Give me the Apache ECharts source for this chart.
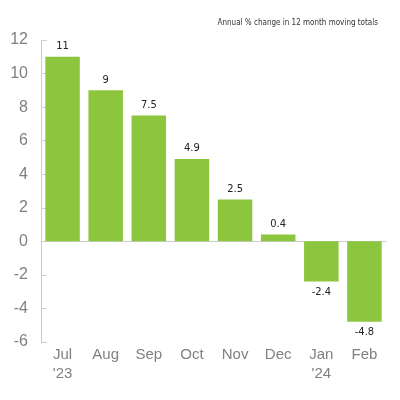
<!DOCTYPE html>
<html>
<head>
<meta charset="utf-8">
<script src="https://cdn.jsdelivr.net/npm/echarts@6/dist/echarts.min.js"></script>
<style>
  html, body { margin: 0; padding: 0; background: #fff; }
  #chart { width: 400px; height: 400px; }
</style>
</head>
<body>
<div id="chart"></div>
<script>
var months = ['Jul\n\'23', 'Aug', 'Sep', 'Oct', 'Nov', 'Dec', 'Jan\n\'24', 'Feb'];
var changes = [11, 9, 7.5, 4.9, 2.5, 0.4, -2.4, -4.8];
var titleText = 'Annual % change in 12 month moving totals';

var narrow = "'Liberation Sans Narrow', 'DejaVu Sans Condensed', sans-serif";

var chart = echarts.init(document.getElementById('chart'));

// negative bars get their label underneath
var barData = changes.map(function (v) {
    return {
        value: v,
        label: { position: v < 0 ? 'bottom' : 'top' }
    };
});

var option = {
    animation: false,
    title: {
        text: titleText,
        right: 17,
        top: 14,
        textStyle: { fontFamily: narrow, fontSize: 8, fontWeight: 'normal', color: '#333' }
    },
    grid: { left: 41, right: 14, top: 40, bottom: 58 },
    xAxis: [
        {
            type: 'category',
            data: months,
            axisLine: { show: false, onZero: false },
            axisTick: { show: false },
            axisLabel: {
                fontFamily: 'Liberation Sans, sans-serif',
                fontSize: 15,
                color: '#808080',
                lineHeight: 19,
                margin: 3,
                interval: 0
            }
        },
        {
            type: 'category',
            data: months,
            position: 'bottom',
            axisLine: { onZero: true, lineStyle: { color: '#ccc', width: 1 } },
            axisTick: { inside: true, length: 6, lineStyle: { color: '#ccc' } },
            axisLabel: { show: false }
        }
    ],
    yAxis: {
        type: 'value',
        min: -6,
        max: 12,
        interval: 2,
        axisLine: { show: true, lineStyle: { color: '#ccc', width: 1 } },
        axisTick: { show: true, inside: true, length: 6, lineStyle: { color: '#ccc' } },
        splitLine: { show: false },
        axisLabel: {
            fontFamily: 'Liberation Sans, sans-serif',
            fontSize: 16,
            color: '#808080',
            margin: 13
        }
    },
    series: [
        {
            type: 'bar',
            xAxisIndex: 0,
            data: barData,
            barCategoryGap: '20%',
            itemStyle: { color: '#8cc63f' },
            label: {
                show: true,
                distance: 5,
                fontFamily: narrow,
                fontSize: 11,
                color: '#222'
            }
        }
    ]
};

chart.setOption(option);
</script>
</body>
</html>
